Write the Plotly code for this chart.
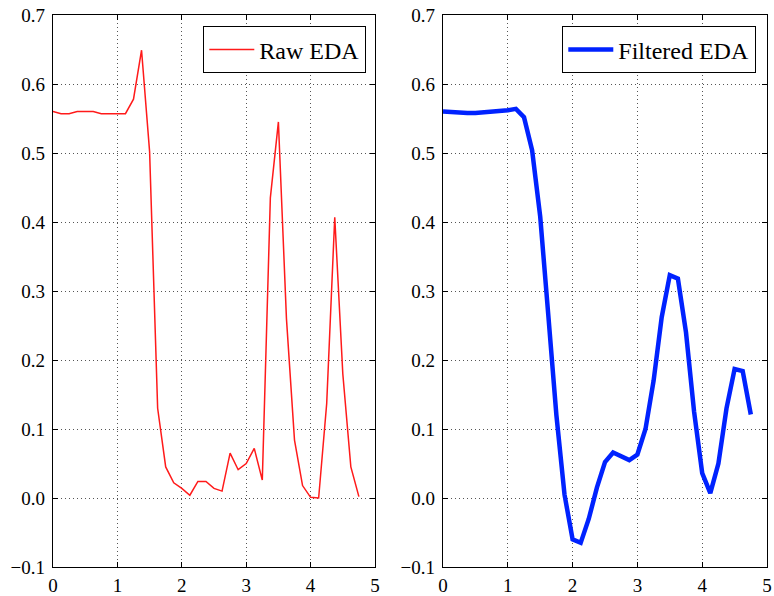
import plotly.graph_objects as go

time_s = [0.0, 0.125, 0.25, 0.375, 0.5, 0.625, 0.75, 0.875, 1.0, 1.125,
          1.25, 1.375, 1.5, 1.625, 1.75, 1.875, 2.0, 2.125, 2.25, 2.375,
          2.5, 2.625, 2.75, 2.875, 3.0, 3.125, 3.25, 3.375, 3.5, 3.625,
          3.75, 3.875, 4.0, 4.125, 4.25, 4.375, 4.5, 4.625, 4.75]

raw_eda = [0.560, 0.557, 0.557, 0.560, 0.560, 0.560, 0.557, 0.557, 0.557, 0.557,
           0.578, 0.649, 0.502, 0.130, 0.045, 0.022, 0.014, 0.004, 0.024, 0.024,
           0.014, 0.010, 0.065, 0.041, 0.050, 0.072, 0.026, 0.435, 0.545, 0.260,
           0.084, 0.018, 0.001, 0.000, 0.137, 0.407, 0.180, 0.045, 0.002]

filtered_eda = [0.560, 0.559, 0.558, 0.558, 0.558, 0.559, 0.559, 0.560, 0.562, 0.564,
                0.552, 0.504, 0.408, 0.265, 0.120, 0.005, -0.060, -0.065, -0.030, 0.015,
                0.052, 0.066, 0.061, 0.055, 0.063, 0.100, 0.170, 0.262, 0.323, 0.318,
                0.240, 0.125, 0.036, 0.007, 0.050, 0.130, 0.187, 0.184, 0.121]

x_ticks = [0, 1, 2, 3, 4, 5]
y_ticks = [-0.1, 0.0, 0.1, 0.2, 0.3, 0.4, 0.5, 0.6, 0.7]
y_tick_text = ["\u22120.1", "0.0", "0.1", "0.2", "0.3", "0.4", "0.5", "0.6", "0.7"]

W, H = 774, 596
FONT = "Liberation Serif"

fig = go.Figure()
fig.add_trace(go.Scatter(x=time_s, y=raw_eda, mode="lines", name="Raw EDA",
                         line=dict(color="#ff1a1a", width=1.5),
                         xaxis="x", yaxis="y", legend="legend"))
fig.add_trace(go.Scatter(x=time_s, y=filtered_eda, mode="lines", name="Filtered EDA",
                         line=dict(color="#0022ff", width=4.5),
                         xaxis="x2", yaxis="y2", legend="legend2"))

common = dict(ticks="inside", ticklen=5, tickcolor="black", tickwidth=1,
              showline=True, linecolor="black", linewidth=1.3, mirror="ticks",
              showgrid=True, gridcolor="#555555", griddash="1px,3px", gridwidth=1,
              zeroline=False, automargin=False,
              tickfont=dict(family=FONT, size=19, color="black"))

def xax(domain, anchor):
    return dict(domain=domain, anchor=anchor, range=[0, 5], tickvals=x_ticks,
                ticklabelstandoff=1, **common)

def yax(domain, anchor):
    return dict(domain=domain, anchor=anchor, range=[-0.1, 0.7], tickvals=y_ticks,
                ticktext=y_tick_text, ticklabelstandoff=3, **common)

ydom = [(H - 567) / H, (H - 15) / H]
leg = dict(yanchor="top", xanchor="right", bordercolor="black", borderwidth=1.3,
           bgcolor="white", font=dict(family=FONT, size=24, color="black"),
           itemwidth=45, tracegroupgap=0)
fig.update_layout(
    width=W, height=H,
    margin=dict(l=0, r=0, t=0, b=0, autoexpand=False),
    paper_bgcolor="white", plot_bgcolor="white",
    xaxis=xax([53 / W, 375 / W], "y"),
    yaxis=yax(ydom, "x"),
    xaxis2=xax([443 / W, 767 / W], "y2"),
    yaxis2=yax(ydom, "x2"),
    legend=dict(x=366 / W, y=(H - 26) / H, **leg),
    legend2=dict(x=756 / W, y=(H - 26) / H, **leg),
    showlegend=True,
)

fig.write_html("out.html", config={"displayModeBar": False},
               post_script="document.body.style.margin='0px';document.body.style.padding='0px';")
